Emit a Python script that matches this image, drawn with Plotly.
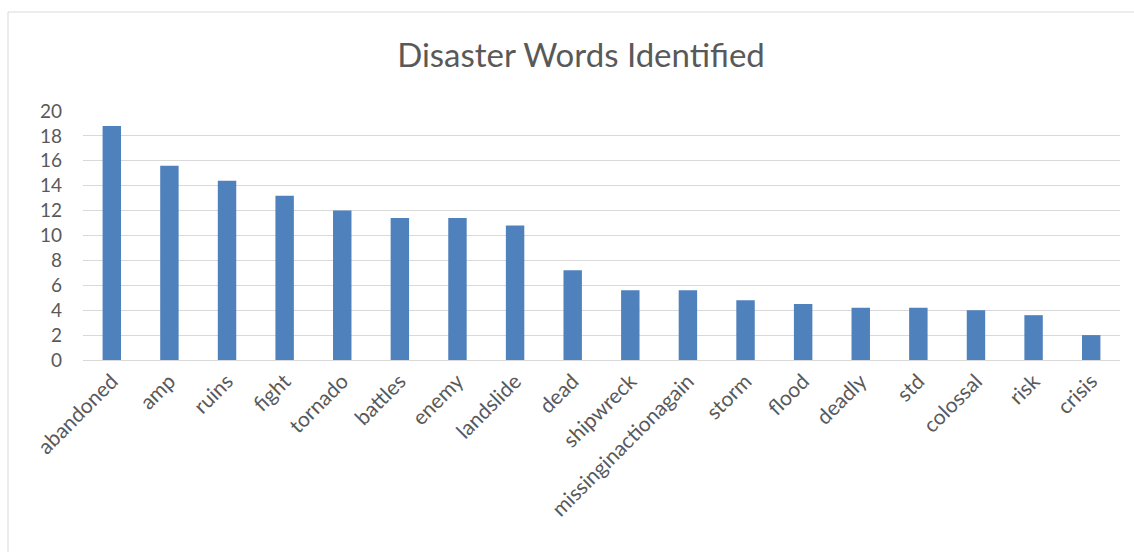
import plotly.graph_objects as go

categories = ["abandoned", "amp", "ruins", "fight", "tornado", "battles", "enemy",
              "landslide", "dead", "shipwreck", "missinginactionagain", "storm",
              "flood", "deadly", "std", "colossal", "risk", "crisis"]
values = [18.8, 15.6, 14.4, 13.2, 12.0, 11.4, 11.4, 10.8, 7.2, 5.6, 5.6, 4.8,
          4.5, 4.2, 4.2, 4.0, 3.6, 2.0]
y_ticks = [0, 2, 4, 6, 8, 10, 12, 14, 16, 18, 20]
title_text = "Disaster Words Identified"

W, H = 1134, 552
L, R, T, B = 83, 14, 111, 192
pw, ph = W - L - R, H - T - B

def px_x(p):
    return (p - L) / pw

def px_y(p):
    return (H - B - p) / ph

fig = go.Figure(go.Bar(
    x=categories, y=values,
    marker=dict(color="#4F81BD", line=dict(width=0)),
    width=0.32,
))

fig.add_shape(type="rect", xref="paper", yref="paper",
              x0=px_x(8), x1=px_x(1140), y0=px_y(560), y1=px_y(12),
              line=dict(color="#d9d9d9", width=1), fillcolor="rgba(0,0,0,0)", layer="below")

fig.update_layout(
    width=W, height=H,
    margin=dict(l=L, r=R, t=T, b=B),
    paper_bgcolor="white", plot_bgcolor="white",
    font=dict(family="Lato, Carlito, sans-serif", color="#595959"),
    title=dict(text=title_text, x=581 / W, xref="container", xanchor="center",
               y=1 - 55 / H, yanchor="middle",
               font=dict(size=33, color="#595959")),
    showlegend=False,
    xaxis=dict(tickangle=-45, tickfont=dict(size=21, color="#595959"),
               showgrid=False, showline=False, ticks="", zeroline=False,
               ticklabelstandoff=4),
    yaxis=dict(range=[0, 20], tickvals=y_ticks, tickfont=dict(size=19, color="#595959"),
               showgrid=True, gridcolor="#d9d9d9", gridwidth=1,
               zeroline=True, zerolinecolor="#d9d9d9", zerolinewidth=1,
               showline=False, ticks="", ticklabelstandoff=20),
)

fig.write_html("out.html")
